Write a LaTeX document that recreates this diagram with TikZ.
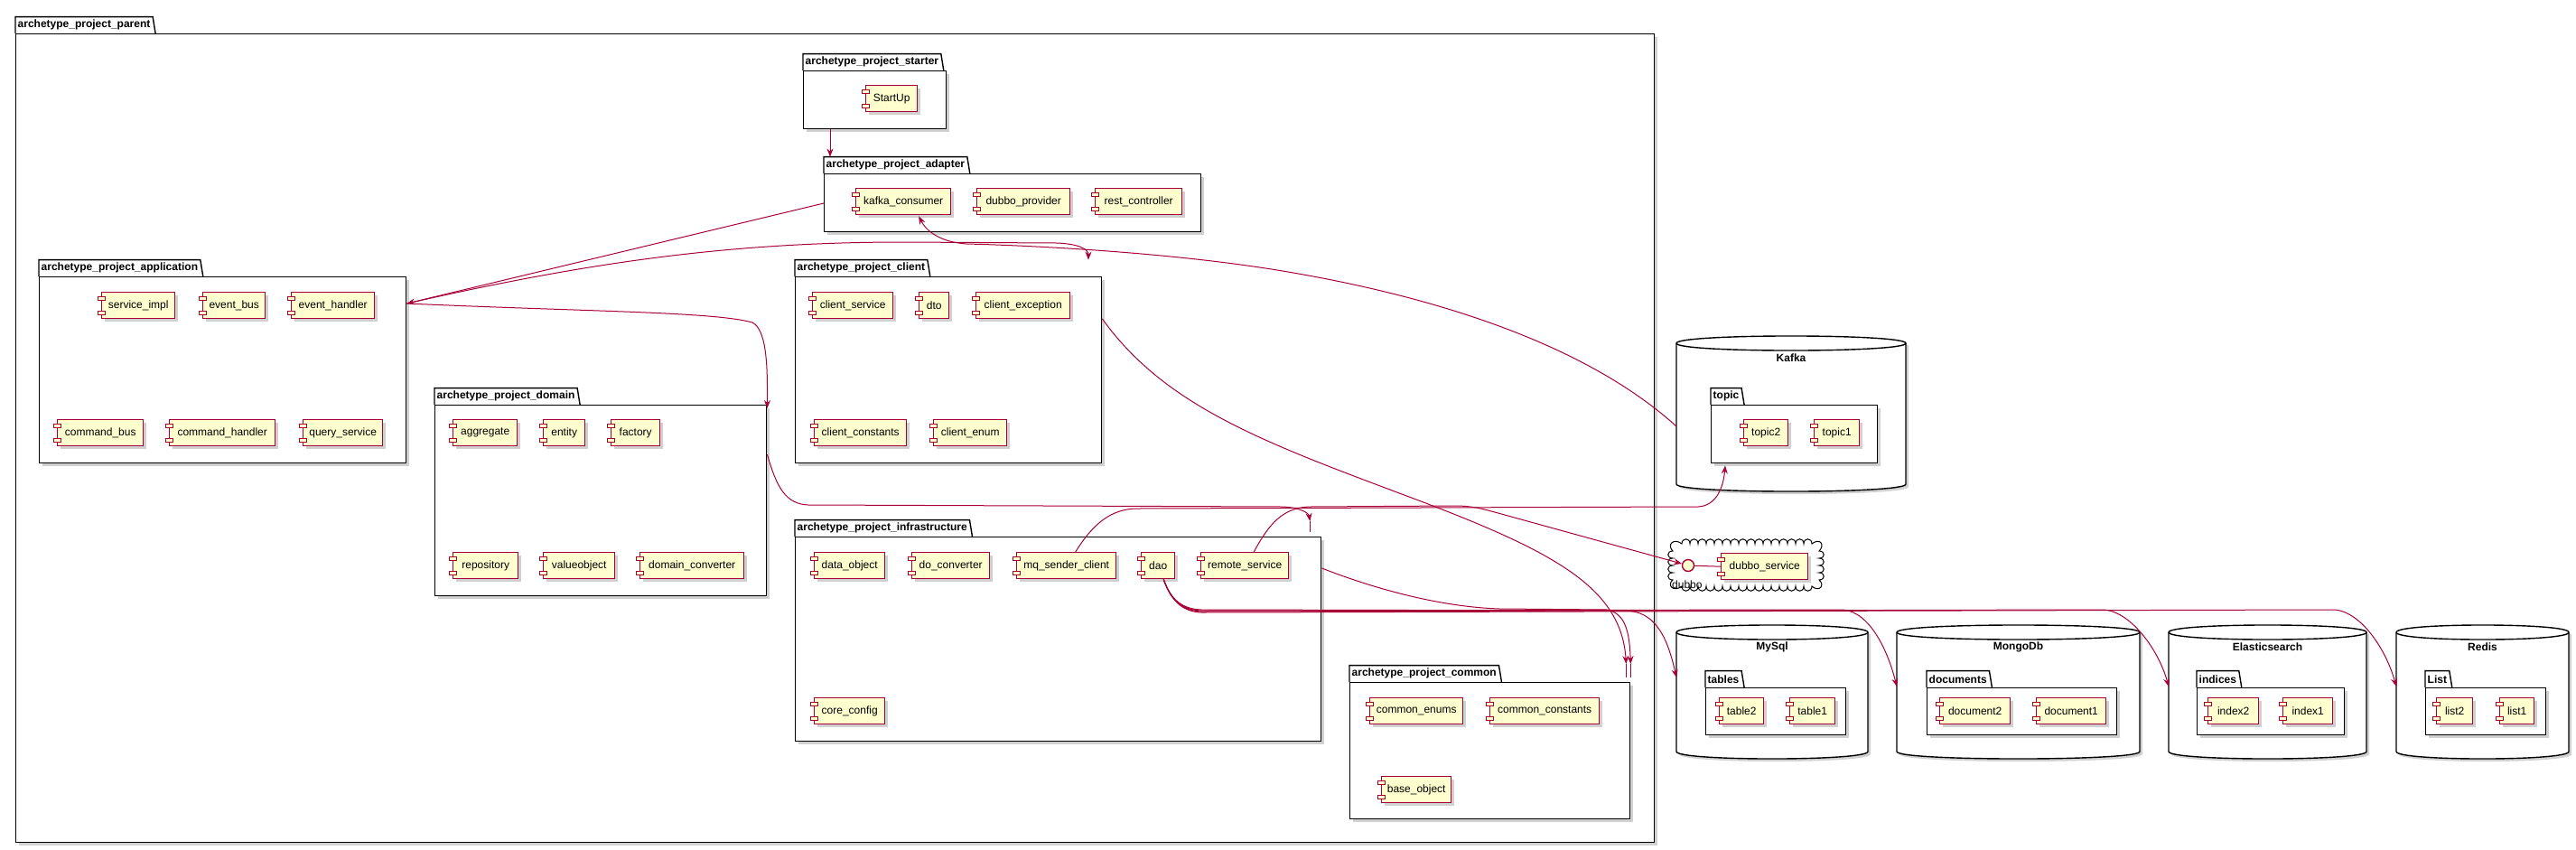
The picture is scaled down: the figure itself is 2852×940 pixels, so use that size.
\documentclass[tikz,border=0pt]{standalone}
\usepackage{fontspec}
\setmainfont{Liberation Sans}
\usetikzlibrary{calc,shadows,arrows.meta}

\definecolor{umlred}{HTML}{A80036}
\definecolor{umlyellow}{HTML}{FEFECE}
\newcommand{\umlfont}{\fontsize{12}{14}\selectfont}

\tikzset{
  softshadow/.style={drop shadow={shadow xshift=3pt,shadow yshift=-3pt,opacity=.3,fill=black!60}},
  pkgbody/.style={draw=black,fill=white,line width=1.4pt,inner sep=0pt,softshadow},
  pkgtab/.style={fill=white,inner xsep=2.5pt,inner ysep=0pt,minimum height=18pt,font=\umlfont\bfseries,anchor=south west},
  pkgline/.style={draw=black,line width=1.4pt},
  comp/.style={draw=umlred,fill=umlyellow,line width=1.4pt,minimum height=29pt,inner sep=0pt,anchor=north west,softshadow},
  port/.style={draw=umlred,fill=umlyellow,line width=1pt},
  db/.style={draw=black,fill=white,line width=1.4pt},
  dep/.style={draw=umlred,line width=1pt,-{Stealth[length=9pt,width=7pt,inset=3pt]}},
  tailline/.style={draw=umlred,line width=1pt},
}

% package: name, x0, body top, x1, bottom, title
\newcommand{\pkg}[6]{%
  \node[pkgtab] (#1 tab) at (#2,#3) {#6};
  \node[pkgbody,anchor=north west,minimum width={(#4-#2)*1pt},minimum height={(#5-#3)*1pt}] (#1) at (#2,#3) {};
  \draw[pkgline] (#1 tab.south west) |- (#1 tab.north east) -- ([xshift=3pt]#1 tab.south east);
}
% component: name, x0, x1, top, label
\newcommand{\comp}[5]{%
  \node[comp,minimum width={(#3-#2)*1pt}] (#1) at (#2,#4) {#5};
  \draw[port] ([xshift=-4pt,yshift=-5pt]#1.north west) rectangle ++(8,4);
  \draw[port] ([xshift=-4pt,yshift=-21pt]#1.north west) rectangle ++(8,4);
}
% database: name, x0, x1, top, bottom, label
\newcommand{\dbase}[6]{%
  \path[db,softshadow] (#2,#4+8) -- (#2,#5-8) .. controls (#2,#5+2.7) and (#3,#5+2.7) .. (#3,#5-8)
    -- (#3,#4+8) .. controls (#3,#4-2.7) and (#2,#4-2.7) .. (#2,#4+8) -- cycle;
  \draw[db,fill=none] (#2,#4+8) .. controls (#2,#4+18.7) and (#3,#4+18.7) .. (#3,#4+8);
  \node[inner sep=0pt,minimum width={(#3-#2)*1pt},minimum height={(#5-#4)*1pt},anchor=north west] (#1) at (#2,#4) {};
  \node[font=\umlfont\bfseries] (#1 label) at ({(#2+#3)/2},#4+24) {#6};
}

\begin{document}
\begin{tikzpicture}[x=1pt,y=-1pt,font=\umlfont]
\useasboundingbox (0,0) rectangle (2852,940);

% packages
\pkg{parent}{17}{37}{1831}{932}{archetype\_project\_parent}
\pkg{starter}{889}{78}{1047}{142}{archetype\_project\_starter}
\pkg{adapter}{912}{192}{1329}{256}{archetype\_project\_adapter}
\pkg{app}{43}{306}{449}{512}{archetype\_project\_application}
\pkg{client}{880}{306}{1219}{512}{archetype\_project\_client}
\pkg{domain}{481}{448}{848}{659}{archetype\_project\_domain}
\pkg{infra}{880}{594}{1462}{820}{archetype\_project\_infrastructure}
\pkg{common}{1494}{755}{1804}{906}{archetype\_project\_common}

% components
\comp{startup}{958}{1015}{94}{StartUp}
\comp{kc}{947}{1052}{208}{kafka\_consumer}
\comp{dp}{1081}{1184}{208}{dubbo\_provider}
\comp{rc}{1212}{1308}{208}{rest\_controller}
\comp{simpl}{112}{193}{323}{service\_impl}
\comp{ebus}{224}{293}{323}{event\_bus}
\comp{ehandler}{322}{414}{323}{event\_handler}
\comp{cbus}{63}{158}{464}{command\_bus}
\comp{chandler}{187}{304}{464}{command\_handler}
\comp{qservice}{335}{423}{464}{query\_service}
\comp{cservice}{899}{988}{323}{client\_service}
\comp{dto}{1017}{1050}{323}{dto}
\comp{cexception}{1080}{1184}{323}{client\_exception}
\comp{cconstants}{901}{1003}{464}{client\_constants}
\comp{cenum}{1033}{1114}{464}{client\_enum}
\comp{aggregate}{501}{572}{464}{aggregate}
\comp{entity}{601}{647}{464}{entity}
\comp{factory}{676}{730}{464}{factory}
\comp{repository}{501}{573}{611}{repository}
\comp{vobject}{601}{680}{611}{valueobject}
\comp{dconverter}{708}{823}{611}{domain\_converter}
\comp{dobject}{901}{979}{611}{data\_object}
\comp{doconv}{1009}{1095}{611}{do\_converter}
\comp{mq}{1125}{1235}{611}{mq\_sender\_client}
\comp{dao}{1263}{1300}{611}{dao}
\comp{remote}{1329}{1426}{611}{remote\_service}
\comp{cconfig}{901}{979}{772}{core\_config}
\comp{cenums}{1516}{1619}{772}{common\_enums}
\comp{cconst}{1649}{1770}{772}{common\_constants}
\comp{bobject}{1529}{1606}{859}{base\_object}

% databases
\dbase{kafka}{1856}{2110}{372}{544}{Kafka}
\pkg{topic}{1894}{448}{2078}{512}{topic}
\comp{topic2}{1930}{1979}{464}{topic2}
\comp{topic1}{2008}{2058}{464}{topic1}

\dbase{mysql}{1856}{2068}{692}{840}{MySql}
\pkg{tables}{1888}{761}{2043}{813}{tables}
\comp{table2}{1903}{1952}{772}{table2}
\comp{table1}{1981}{2031}{772}{table1}

\dbase{mongo}{2100}{2369}{692}{840}{MongoDb}
\pkg{documents}{2133}{761}{2343}{813}{documents}
\comp{doc2}{2147}{2225}{772}{document2}
\comp{doc1}{2254}{2331}{772}{document1}

\dbase{elastic}{2401}{2620}{692}{840}{Elasticsearch}
\pkg{indices}{2432}{761}{2595}{813}{indices}
\comp{index2}{2444}{2500}{772}{index2}
\comp{index1}{2527}{2582}{772}{index1}

\dbase{redis}{2653}{2844}{692}{840}{Redis}
\pkg{list}{2685}{761}{2818}{813}{List}
\comp{list2}{2697}{2737}{772}{list2}
\comp{list1}{2767}{2805}{772}{list1}

% dubbo cloud
\draw[line width=1pt,fill=white] (1862,602)
  \foreach \x in {1862,1871,...,1997} { .. controls (\x,595) and (\x+9,595) .. (\x+9,602) }
  .. controls (2015,595) and (2021,603) .. (2014,610)
  \foreach \y in {610,618,626,634} { .. controls (2021,\y) and (2021,\y+8) .. (2014,\y+8) }
  .. controls (2021,648) and (2014,656) .. (2006,649)
  \foreach \x in {2006,1997,...,1871} { .. controls (\x,656) and (\x-9,656) .. (\x-9,649) }
  .. controls (1853,656) and (1845,648) .. (1852,642)
  \foreach \y in {642,634,626,618} { .. controls (1845,\y) and (1845,\y-8) .. (1852,\y-8) }
  .. controls (1845,603) and (1853,595) .. (1862,602) -- cycle;
\node[circle,draw=umlred,fill=umlyellow,line width=1.4pt,minimum size=13pt,inner sep=0pt] (dubboif) at (1869,626) {};
\comp{dubbosvc}{1905}{2001}{612}{dubbo\_service}
\draw[tailline] (dubboif) -- (dubbosvc.west);
\node[anchor=base west,inner sep=0pt] (dubbolabel) at (1851,651) {dubbo};

% tips of arrows into packages
\coordinate (infratip) at ($(infra.north east)+(-13,-17)$);
\coordinate (commontipa) at ($(common.north east)+(-5,-20)$);
\coordinate (commontipb) at ($(common.north east)+(0,-20)$);

% dependencies
\draw[dep] ($(starter.south west)+(30,0)$) -- ($(adapter tab.north west)+(7,0)$);
\draw[dep] ($(adapter.north west)+(0,33)$) -- ($(app.north east)+(0,30)$);
\draw[dep] ($(app.north east)+(0,30)$) .. controls (640,293) and (800,268) .. (1000,268) -- (1170,269)
  .. controls (1195,270) and (1205,276) .. ($(client tab.north west)+(325,0)$);
\draw[dep] ($(app.north east)+(0,30)$) .. controls (650,345) and (790,345) .. (833,357)
  .. controls (848,365) and (850,400) .. ($(domain.north east)+(0,4)$);
\draw[dep] ($(kafka.north west)+(0,100)$) .. controls (1760,385) and (1600,330) .. (1420,300)
  .. controls (1300,280) and (1150,272) .. (1070,270) .. controls (1040,268) and (1025,255) .. ($(kc.south)+(17,1)$);
\draw[dep] ($(domain.north east)+(0,55)$) .. controls (860,540) and (870,558) .. (895,559) -- (1420,561)
  .. controls (1440,562) and (1449,568) .. (infratip);
\draw[tailline] (infratip) -- ++(0,12);
\draw[dep] ($(mq.north)+(10,0)$) .. controls (1210,580) and (1230,563) .. (1260,563) -- (1880,561)
  .. controls (1900,560) and (1908,540) .. ($(topic.south west)+(16,2)$);
\draw[dep] ($(remote.north)+(10,0)$) .. controls (1405,580) and (1420,562) .. (1450,561) -- (1610,560)
  .. controls (1630,560) and (1640,563) .. (1655,567) -- (dubboif);
\draw[dep] ($(client.north east)+(0,47)$) .. controls (1290,450) and (1400,490) .. (1560,550)
  .. controls (1720,610) and (1795,650) .. (commontipa);
\draw[tailline] (commontipa) -- ++(0,15);
\draw[dep] ($(infra.north east)+(0,35)$) .. controls (1530,655) and (1600,672) .. (1660,674) -- (1780,675)
  .. controls (1800,680) and (1804,700) .. (commontipb);
\draw[tailline] (commontipb) -- ++(0,15);
\draw[dep] ($(dao.south)+(6,0)$) .. controls (1295,660) and (1305,674) .. (1330,675) -- (1800,676)
  .. controls (1830,677) and (1845,700) .. ($(mysql.north west)+(0,58)$);
\draw[dep] ($(dao.south)+(6,0)$) .. controls (1295,660) and (1305,675) .. (1330,676) -- (2040,675)
  .. controls (2070,677) and (2090,720) .. ($(mongo.north west)+(0,68)$);
\draw[dep] ($(dao.south)+(6,0)$) .. controls (1295,660) and (1305,676) .. (1330,677) -- (2330,675)
  .. controls (2360,678) and (2390,720) .. ($(elastic.north west)+(0,68)$);
\draw[dep] ($(dao.south)+(6,0)$) .. controls (1295,660) and (1305,677) .. (1330,678) -- (2585,675)
  .. controls (2615,678) and (2642,720) .. ($(redis.north west)+(0,68)$);
\end{tikzpicture}
\end{document}
